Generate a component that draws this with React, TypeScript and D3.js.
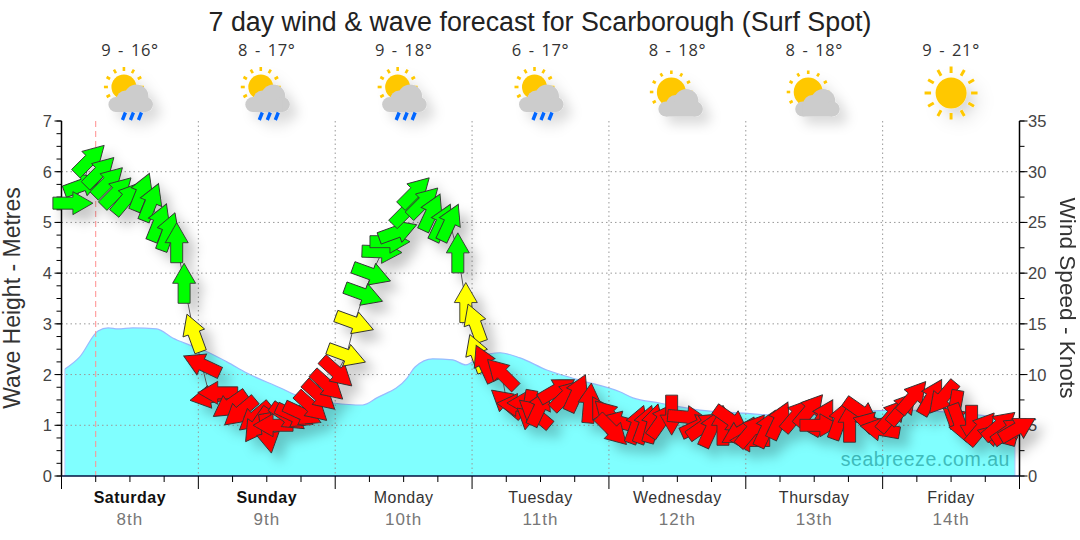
import React from "react";
import * as d3 from "d3";

const waveHours = [0.6,3.2,6.4,8.2,9.9,12.5,16.7,19.5,22.5,25.5,29,32.5,38.3,41.8,47.6,52.8,55.3,60.6,62,65.1,68.6,70.9,73.4,76.9,80.4,85.1,90.9,97.9,100.2,104.9,111.9,119.5,124.7,129.4,136.4,141.7,148.1,155.2,161,167.2];
const waveMetres = [2.11,2.35,2.86,2.92,2.9,2.92,2.9,2.72,2.58,2.45,2.25,2.03,1.74,1.56,1.44,1.4,1.54,1.93,2.15,2.31,2.29,2.19,2.35,2.43,2.33,2.09,1.89,1.66,1.54,1.44,1.3,1.24,1.2,1.2,1.24,1.28,1.3,1.26,1.2,1.1];

const windHours = [2,3.8,5,6.7,8.2,9.7,11.5,14.1,15.7,17.1,18.7,20.2,21.5,23.2,24.6,26,27.4,29.5,31.3,33.9,34.3,36.2,37.1,39.7,40.9,42.3,43.9,45.3,46.7,48.3,50,51.4,53,54.4,56.2,57.6,59,60.6,62,63.5,64.9,66.7,68.1,69.5,70.9,72.5,72.8,74.2,77.2,78.1,79.8,81.6,81.9,83,83.9,86.9,88.6,90.4,92.6,94.9,96.1,97.9,96.6,100.9,102.3,103.7,105.3,107,109.8,111.9,112.8,114,116,117.5,118.9,120.7,121,123.7,125.9,128.9,131.2,133.5,133,136.5,138.2,140.3,142.2,143.5,145.7,147.5,149.3,152.6,154.5,156.6,157.5,159.6,161.3,164,164.5,166.3,167.7];
const windKnots = [26.9,28.7,31.2,30,29,28,27.4,28,27,25,24.1,23,19,14.1,11,7.8,8.2,7,6.3,5.8,5,4.2,5,5.8,5.9,6.1,6.8,7.9,8.9,10.2,11.9,15.1,17.9,19.9,22.1,23.1,24.1,26.2,28,27,26,25,25,22,17.1,15.1,12.1,11.1,10.1,7.2,7,7.2,6.5,6.2,6.8,8.5,8,8.2,7.2,6.1,6,5.3,4.5,5.1,5.1,5.2,5.5,6,5.8,5,5,4.7,5,5.5,4.3,3.5,4.5,4.7,5.5,6,6.5,5.8,5,5.5,5.3,6.3,5.2,4.6,6,6.7,7.8,7.8,7.7,6.5,5.2,5,4.7,4,5,4.5,4.7];
const windBearings = [90,70,45,45,45,45,40,22,22,22,20,0,0,-20,-65,-100,-90,-125,-130,-130,-145,170,-90,125,115,115,132,132,132,132,110,110,110,110,92,90,70,45,45,45,25,25,25,0,0,-20,-20,-25,-45,-50,-85,-90,190,-50,25,60,45,25,5,-30,-45,-75,135,20,20,15,35,180,95,65,55,25,0,125,-120,-90,40,25,25,40,40,30,90,20,0,125,-75,-80,40,40,40,30,-140,190,160,180,40,-75,50,55,60];

const dayNames = ["Saturday","Sunday","Monday","Tuesday","Wednesday","Thursday","Friday"];
const dayDates = ["8th","9th","10th","11th","12th","13th","14th"];
const boldDays = ["Saturday","Sunday"];
const tempLabels = ["9 - 16°","8 - 17°","9 - 18°","6 - 17°","8 - 18°","8 - 18°","9 - 21°"];
const iconKinds = ["rain","rain","rain","rain","cloud","cloud","sun"];
const metreTicks = [0,1,2,3,4,5,6,7];
const knotTicks = [0,5,10,15,20,25,30,35];
const nowHour = 6;

const W = 1080, H = 540;
const x = d3.scaleLinear().domain([0,168]).range([61.5,1019.5]);
const yM = d3.scaleLinear().domain([0,7]).range([476,121]);
const yK = d3.scaleLinear().domain([0,35]).range([476,121]);
const speedColor = d3.scaleThreshold<number,string>().domain([11.5,17.5]).range(["#ff0000","#ffff00","#00ff00"]);

const FONT = "'Liberation Sans', Arial, sans-serif";
const arrowPath = "M0,-20L11.5,0L6,0L6,20L-6,20L-6,0L-11.5,0Z";

const windPoints = windHours.map((h,i)=>({h,k:windKnots[i],b:windBearings[i]}));
const drawOrder = [...windPoints.slice(1), windPoints[0]];

function Sun({cx,cy,r,r1,r2,n,rayW}:{cx:number,cy:number,r:number,r1:number,r2:number,n:number,rayW:number}){
  return <g>
    <circle cx={cx} cy={cy} r={r} fill="#ffc800"/>
    {d3.range(n).map(i=>{
      const a=i/n*2*Math.PI;
      return <line key={i} x1={cx+Math.cos(a)*r1} y1={cy+Math.sin(a)*r1} x2={cx+Math.cos(a)*r2} y2={cy+Math.sin(a)*r2} stroke="#ffc800" strokeWidth={rayW}/>;
    })}
  </g>;
}
function Cloud({dx,dy}:{dx:number,dy:number}){
  return <g transform={`translate(${dx},${dy})`} fill="#cccccc">
    <circle cx={7.5} cy={19} r={7.5}/>
    <circle cx={17} cy={14} r={9}/>
    <circle cx={28} cy={11} r={12}/>
    <circle cx={37} cy={19} r={7.5}/>
    <rect x={7.5} y={14} width={29.5} height={12.5}/>
  </g>;
}
function Icon({kind,cx}:{kind:string,cx:number}){
  if(kind==="sun") return <Sun cx={cx} cy={93} r={15.5} r1={20} r2={26.5} n={12} rayW={3}/>;
  if(kind==="cloud") return <g>
    <Sun cx={cx-6} cy={92} r={14.5} r1={18} r2={21.5} n={12} rayW={2.6}/>
    <Cloud dx={cx-19} dy={90}/>
  </g>;
  return <g>
    <Sun cx={cx-6} cy={87} r={12.5} r1={16} r2={20} n={12} rayW={2.6}/>
    <Cloud dx={cx-21.5} dy={85.5}/>
    {[-6,2,10].map(d=><line key={d} x1={cx+d+1.5} y1={112.5} x2={cx+d-1.5} y2={120} stroke="#0066ff" strokeWidth={3.4}/>)}
  </g>;
}

export default function App(){
  const area = d3.area<number>().x((_,i)=>x(waveHours[i])).y0(yM(0)).y1(d=>yM(d)).curve(d3.curveMonotoneX)(waveMetres) || "";
  const topLine = d3.line<number>().x((_,i)=>x(waveHours[i])).y(d=>yM(d)).curve(d3.curveMonotoneX)(waveMetres) || "";
  const windLine = d3.line<any>().x(d=>x(d.h)).y(d=>yK(d.k))(windPoints) || "";
  const txt = {fontFamily:FONT};
  return <svg width={W} height={H} viewBox={`0 0 ${W} ${H}`} style={{position:"fixed",left:0,top:0,background:"#fff"}}>
    <defs>
      <filter id="sh" x="-20%" y="-20%" width="140%" height="140%">
        <feDropShadow dx="9" dy="9" stdDeviation="6" floodColor="#000" floodOpacity="0.22"/>
      </filter>
      <filter id="shi" x="-30%" y="-30%" width="170%" height="170%">
        <feDropShadow dx="8" dy="8" stdDeviation="6" floodColor="#000" floodOpacity="0.14"/>
      </filter>
    </defs>
    <text x={540} y={31} textAnchor="middle" fontSize={26.8} fill="#222" style={txt}>7 day wind &amp; wave forecast for Scarborough (Surf Spot)</text>

    {tempLabels.map((t,i)=><text key={t+i} x={x(i*24+12)} y={56} textAnchor="middle" fontSize={16.5} letterSpacing={0.6} wordSpacing={2} fill="#333" style={{fontFamily:"'Open Sans', sans-serif"}}>{t}</text>)}
    {iconKinds.map((k,i)=><g key={i} filter="url(#shi)"><Icon kind={k} cx={x(i*24+12)}/></g>)}

    <path d={area} fill="#80ffff"/>
    <path d={topLine} fill="none" stroke="#99bbff" strokeWidth={1.2}/>
    <line x1={x(waveHours[0])} x2={x(waveHours[0])} y1={yM(waveMetres[0])} y2={yM(0)} stroke="#b5c8ff" strokeWidth={1}/>
    <line x1={x(waveHours[waveHours.length-1])} x2={x(waveHours[waveHours.length-1])} y1={yM(waveMetres[waveMetres.length-1])} y2={yM(0)} stroke="#b5c8ff" strokeWidth={1}/>

    {metreTicks.slice(1,7).map(m=><line key={m} x1={x(0)} x2={x(168)} y1={yM(m)} y2={yM(m)} stroke="#999" strokeWidth={1} strokeDasharray="1.5 3"/>)}
    {d3.range(1,7).map(d=><line key={d} x1={x(d*24)} x2={x(d*24)} y1={yM(7)} y2={yM(0)} stroke="#999" strokeWidth={1} strokeDasharray="1.5 3"/>)}
    <line x1={x(nowHour)} x2={x(nowHour)} y1={yM(7)} y2={yM(0)} stroke="#ff8f8f" strokeWidth={1} strokeDasharray="6 4"/>

    <text x={1010} y={466} textAnchor="end" fontSize={19.5} fill="#3fbcbc" letterSpacing={0.55} style={txt}>seabreeze.com.au</text>

    <line x1={x(0)} x2={x(0)} y1={yM(7)} y2={yM(0)} stroke="#000" strokeWidth={1.5}/>
    <line x1={x(168)} x2={x(168)} y1={yM(7)} y2={yM(0)} stroke="#000" strokeWidth={1.5}/>
    <line x1={x(0)} x2={x(168)} y1={yM(0)} y2={yM(0)} stroke="#001040" strokeWidth={1.5}/>
    {d3.range(0,7.01,0.25).map(m=><line key={m} x1={x(0)-5} x2={x(0)} y1={yM(m)} y2={yM(m)} stroke="#000" strokeWidth={1}/>)}
    {metreTicks.map(m=><g key={m}>
      <line x1={x(0)-7} x2={x(0)} y1={yM(m)} y2={yM(m)} stroke="#000" strokeWidth={1}/>
      <text x={52} y={yM(m)+6} textAnchor="end" fontSize={16.5} fill="#444" style={txt}>{m}</text>
    </g>)}
    {d3.range(0,35.01,2.5).map(k=><line key={k} x1={x(168)} x2={x(168)+5} y1={yK(k)} y2={yK(k)} stroke="#000" strokeWidth={1}/>)}
    {knotTicks.map(k=><g key={k}>
      <line x1={x(168)} x2={x(168)+8} y1={yK(k)} y2={yK(k)} stroke="#000" strokeWidth={1}/>
      <text x={1028} y={yK(k)+6} textAnchor="start" fontSize={16.5} fill="#444" style={txt}>{k}</text>
    </g>)}
    {d3.range(0,169,6).map(h=><line key={h} x1={x(h)} x2={x(h)} y1={yM(0)} y2={yM(0)+(h%24===0?13:6)} stroke="#000" strokeWidth={1}/>)}

    <g filter="url(#sh)">
      <path d={windLine} fill="none" stroke="#555" strokeWidth={1}/>
      {drawOrder.map((p,i)=><path key={i} d={arrowPath} transform={`translate(${x(p.h)},${yK(p.k)}) rotate(${p.b})`} fill={speedColor(p.k)} stroke="#333" strokeWidth={0.9} strokeLinejoin="miter"/>)}
    </g>

    {dayNames.map((d,i)=><text key={d} x={x(i*24+12)} y={503} textAnchor="middle" fontSize={16} letterSpacing={0.5} fontWeight={boldDays.includes(d)?700:400} fill={boldDays.includes(d)?"#111":"#333"} style={txt}>{d}</text>)}
    {dayDates.map((d,i)=><text key={d} x={x(i*24+12)} y={525} textAnchor="middle" fontSize={17} letterSpacing={1} fill="#777" style={txt}>{d}</text>)}

    <text transform={`translate(20,298) rotate(-90)`} textAnchor="middle" fontSize={23} fill="#333" style={txt}>Wave Height - Metres</text>
    <text transform={`translate(1060,298) rotate(90)`} textAnchor="middle" fontSize={22.6} fill="#333" style={txt}>Wind Speed - Knots</text>
  </svg>;
}
